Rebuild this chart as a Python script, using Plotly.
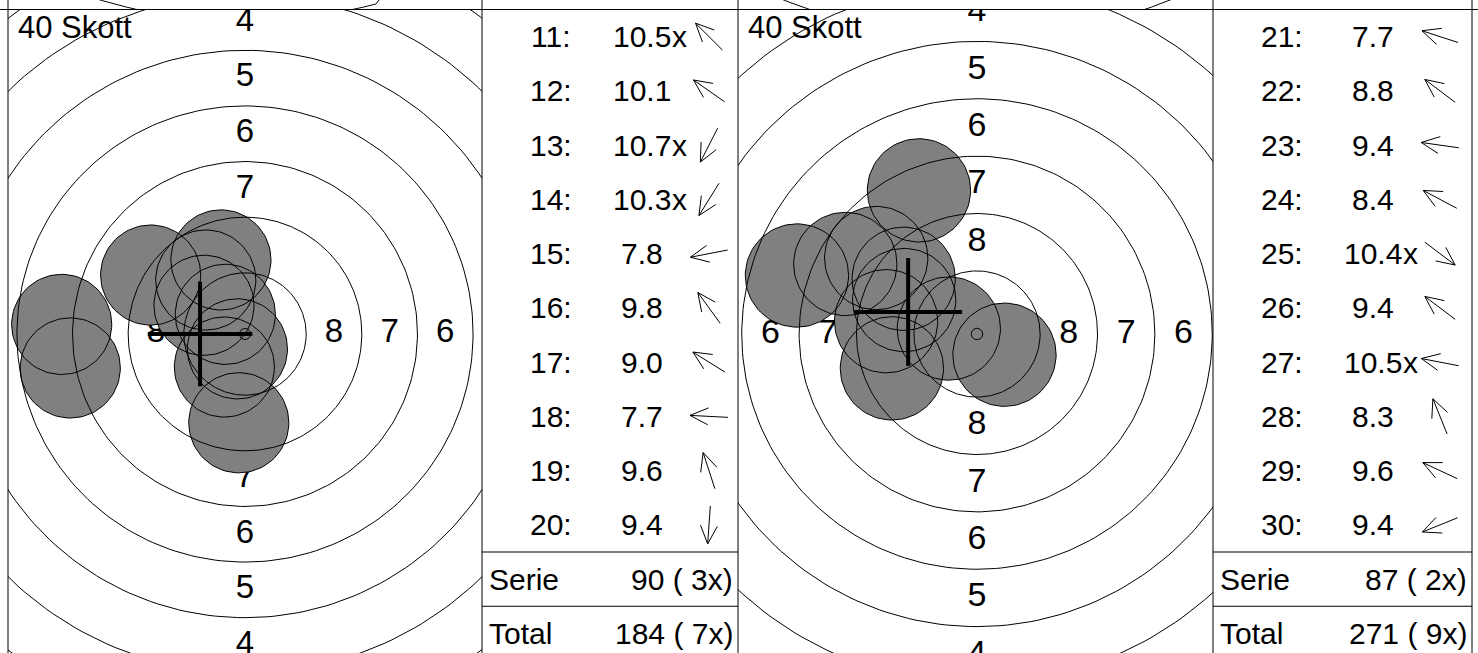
import numpy as np
import plotly.graph_objects as go

# ---------------------------------------------------------------- data
SHOT_COUNT_LABEL = "40 Skott"

# series 2: shots 11-20
shots_a = list(range(11, 21))
score_a = [10.5, 10.1, 10.7, 10.3, 7.8, 9.8, 9.0, 7.7, 9.6, 9.4]
inner_a = [True, False, True, True, False, False, False, False, False, False]
angle_a = [135, 145, 243, 238, 191, 126, 148, 177, 108, 266]   # direction of hit, degrees
mpi_a = (-2.02, 0.0)                                           # mean point of impact, mm
total_a, total_x_a = 184, 7

# series 3: shots 21-30
shots_b = list(range(21, 31))
score_b = [7.7, 8.8, 9.4, 8.4, 10.4, 9.4, 10.5, 8.3, 9.6, 9.4]
inner_b = [False, False, False, False, True, False, True, False, False, False]
angle_b = [162, 143, 172, 152, 323, 143, 169, 112, 155, 202]
mpi_b = (-3.0, 0.96)
total_b, total_x_b = 271, 9

# ---------------------------------------------------------------- target geometry (10 m air rifle, mm)
RING_W = 2.5
TEN_R = 0.25
PELLET_R = 2.25
RING_R = {k: TEN_R + RING_W * (10 - k) for k in range(1, 11)}
CROSS_ARM = 2.35

# ---------------------------------------------------------------- page layout (px)
W, H = 1478, 653
TOP = 9.5
ROW = 54.25
FONT = "Liberation Sans, Arial, sans-serif"
GREY = "#808080"

panels = [
    dict(tx0=8, tx1=482, cx=245, cy=334, scale=22.25, lab=33,
         bx0=482, bx1=738, shots=shots_a, score=score_a, inner=inner_a,
         angle=angle_a, mpi=mpi_a, total=total_a, total_x=total_x_a),
    dict(tx0=738, tx1=1213, cx=977, cy=334, scale=22.95, lab=34,
         bx0=1213, bx1=1472, shots=shots_b, score=score_b, inner=inner_b,
         angle=angle_b, mpi=mpi_b, total=total_b, total_x=total_x_b),
]
ABOVE_CY = -485   # centre of the target in the row above


def circle(cx, cy, r, n=96):
    t = np.linspace(0, 2 * np.pi, n + 1)
    return cx + r * np.cos(t), cy + r * np.sin(t)


def join(paths):
    xs, ys = [], []
    for x, y in paths:
        xs += list(x) + [None]
        ys += list(y) + [None]
    return xs, ys


def text_w(s, size):
    adv = {".": 0.278, ":": 0.278, "x": 0.5}
    return sum(adv.get(c, 0.556) for c in s) * size


fig = go.Figure()
layout = dict(width=W, height=H, margin=dict(l=0, r=0, t=0, b=0),
              paper_bgcolor="white", plot_bgcolor="white", showlegend=False,
              font=dict(family=FONT, color="black"))
annotations, shapes = [], []

for i, p in enumerate(panels):
    s = p["scale"]
    tx, ty = f"x{2*i+1 if i else ''}", f"y{2*i+1 if i else ''}"
    # axis ids: target 1/2 -> (x,y),(x3,y3); table -> (x2,y2),(x4,y4); strip -> (x5,y5),(x6,y6)
    t_id = 1 + 2 * i
    b_id = 2 + 2 * i
    s_id = 5 + i
    tref = ("x" if t_id == 1 else f"x{t_id}", "y" if t_id == 1 else f"y{t_id}")
    bref = (f"x{b_id}", f"y{b_id}")
    sref = (f"x{s_id}", f"y{s_id}")

    xr = [(p["tx0"] - p["cx"]) / s, (p["tx1"] - p["cx"]) / s]
    layout["xaxis" if t_id == 1 else f"xaxis{t_id}"] = dict(
        domain=[p["tx0"] / W, p["tx1"] / W], range=xr, visible=False,
        anchor=tref[1], fixedrange=True)
    layout["yaxis" if t_id == 1 else f"yaxis{t_id}"] = dict(
        domain=[0, 1 - TOP / H], range=[-(H - p["cy"]) / s, (p["cy"] - TOP) / s],
        visible=False, anchor=tref[0], fixedrange=True)

    # ring numbers (under the hits)
    lx, ly, lt = [], [], []
    for k in range(1, 9):
        m = RING_R[k] - RING_W / 2
        for dx, dy in [(0, m), (0, -m), (-m, 0), (m, 0)]:
            lx.append(dx); ly.append(dy); lt.append(str(k))
    fig.add_trace(go.Scatter(x=lx, y=ly, text=lt, mode="text",
                             textfont=dict(size=p["lab"], color="black", family=FONT),
                             textposition="middle center", hoverinfo="skip",
                             xaxis=tref[0], yaxis=tref[1]))

    # hit centres from score and direction
    d = [(11 - v) * RING_W for v in p["score"]]
    hx = [r * np.cos(np.radians(a)) for r, a in zip(d, p["angle"])]
    hy = [r * np.sin(np.radians(a)) for r, a in zip(d, p["angle"])]
    hits = [circle(x, y, PELLET_R) for x, y in zip(hx, hy)]
    fx, fy = join(hits)
    fig.add_trace(go.Scatter(x=fx, y=fy, mode="lines", fill="toself", fillcolor=GREY,
                             line=dict(width=0, color="rgba(0,0,0,0)"), hoverinfo="skip",
                             xaxis=tref[0], yaxis=tref[1]))
    rx, ry = join([circle(0, 0, r, 240) for r in RING_R.values()])
    fig.add_trace(go.Scatter(x=rx, y=ry, mode="lines", line=dict(width=1, color="black"),
                             hoverinfo="skip", xaxis=tref[0], yaxis=tref[1]))
    fig.add_trace(go.Scatter(x=fx, y=fy, mode="lines", line=dict(width=1, color="black"),
                             hoverinfo="skip", xaxis=tref[0], yaxis=tref[1]))
    mx, my = p["mpi"]
    fig.add_trace(go.Scatter(x=[mx - CROSS_ARM, mx + CROSS_ARM, None, mx, mx],
                             y=[my, my, None, my - CROSS_ARM, my + CROSS_ARM],
                             mode="lines", line=dict(width=4, color="black"),
                             hoverinfo="skip", xaxis=tref[0], yaxis=tref[1]))
    annotations.append(dict(text=SHOT_COUNT_LABEL, xref="paper", yref="paper",
                            x=(p["tx0"] + 8) / W, y=1 - 27.5 / H, xanchor="left",
                            yanchor="middle", showarrow=False,
                            font=dict(size=31, family=FONT, color="black")))

    # strip of the target in the row above
    layout[f"xaxis{s_id}"] = dict(domain=[p["tx0"] / W, p["tx1"] / W], range=xr,
                                  visible=False, anchor=sref[1], fixedrange=True)
    layout[f"yaxis{s_id}"] = dict(domain=[1 - TOP / H, 1],
                                  range=[-(TOP - ABOVE_CY) / s, ABOVE_CY / s],
                                  visible=False, anchor=sref[0], fixedrange=True)
    fig.add_trace(go.Scatter(x=rx, y=ry, mode="lines", line=dict(width=1, color="black"),
                             hoverinfo="skip", xaxis=sref[0], yaxis=sref[1]))

    # score table
    bw = p["bx1"] - p["bx0"]
    layout[f"xaxis{b_id}"] = dict(domain=[p["bx0"] / W, p["bx1"] / W], range=[0, bw / ROW],
                                  visible=False, anchor=bref[1], fixedrange=True)
    layout[f"yaxis{b_id}"] = dict(domain=[0, 1 - TOP / H], range=[(H - TOP) / ROW, 0],
                                  visible=False, anchor=bref[0], fixedrange=True)
    ax, ay = [], []
    half, head, spread = 19 / ROW, 20 / ROW, np.radians(25)
    for j, (n, v, x, a) in enumerate(zip(p["shots"], p["score"], p["inner"], p["angle"])):
        yc = j + 0.5
        num = f"{v:.1f}"
        annotations.append(dict(text=f"{n}:", x=68.5 / ROW, y=yc, xref=bref[0], yref=bref[1],
                                xanchor="center", yanchor="middle", showarrow=False))
        annotations.append(dict(text=num, x=160 / ROW, y=yc, xref=bref[0], yref=bref[1],
                                xanchor="center", yanchor="middle", showarrow=False))
        if x:
            annotations.append(dict(text="x", x=(160 + text_w(num, 30) / 2 - 1) / ROW, y=yc,
                                    xref=bref[0], yref=bref[1], xanchor="left",
                                    yanchor="middle", showarrow=False))
        # arrow showing the direction of the hit (y axis of the table runs downward)
        th = np.radians(a)
        ux, uy = np.cos(th), -np.sin(th)
        c0 = 227 / ROW
        tipx, tipy = c0 + half * ux, yc + half * uy
        ax += [c0 - half * ux, tipx, None]
        ay += [yc - half * uy, tipy, None]
        for sgn in (1, -1):
            bx = -(ux * np.cos(sgn * spread) - uy * np.sin(sgn * spread))
            by = -(ux * np.sin(sgn * spread) + uy * np.cos(sgn * spread))
            ax += [tipx, tipx + head * bx, None]
            ay += [tipy, tipy + head * by, None]
    fig.add_trace(go.Scatter(x=ax, y=ay, mode="lines", line=dict(width=1, color="black"),
                             hoverinfo="skip", xaxis=bref[0], yaxis=bref[1]))

    serie = int(sum(np.floor(p["score"])))
    serie_x = int(sum(p["inner"]))
    for yc, lab, val in [(10.5, "Serie", f"{serie} ( {serie_x}x)"),
                         (11.5, "Total", f"{p['total']} ( {p['total_x']}x)")]:
        annotations.append(dict(text=lab, x=5 / ROW, y=yc, xref=bref[0], yref=bref[1],
                                xanchor="left", yanchor="middle", showarrow=False))
        annotations.append(dict(text=val, x=(bw - 3) / ROW, y=yc, xref=bref[0], yref=bref[1],
                                xanchor="right", yanchor="middle", showarrow=False))
    for yl in (10, 11):
        shapes.append(dict(type="line", xref="paper", yref=bref[1], x0=p["bx0"] / W,
                           x1=p["bx1"] / W, y0=yl, y1=yl, line=dict(width=1, color="black")))

# panel frames
for xp in (8, 482, 738, 1213, 1472):
    shapes.append(dict(type="line", xref="paper", yref="paper", x0=xp / W, x1=xp / W,
                       y0=0, y1=1, line=dict(width=1, color="black")))
shapes.append(dict(type="line", xref="paper", yref="paper", x0=0, x1=1,
                   y0=1 - TOP / H, y1=1 - TOP / H, line=dict(width=1, color="black")))

for an in annotations:
    an.setdefault("font", dict(size=30, family=FONT, color="black"))
layout["annotations"] = annotations
layout["shapes"] = shapes
fig.update_layout(**layout)
fig.write_html("out.html")
